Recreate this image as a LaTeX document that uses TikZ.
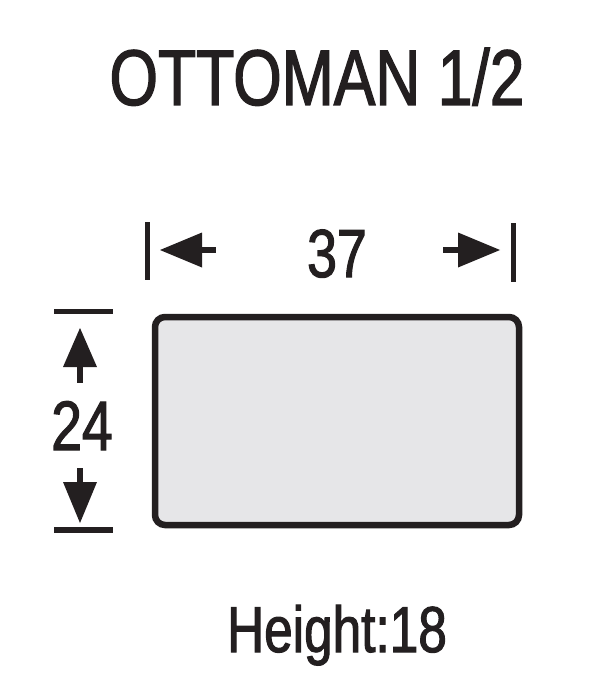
\documentclass[tikz,border=0pt]{standalone}
\usepackage{fontspec}
\newfontfamily\cond[FakeStretch=0.79,FakeBold=1.6]{Liberation Sans}
\definecolor{ink}{HTML}{231F20}
\definecolor{boxfill}{HTML}{E6E6E8}
\tikzset{
  lbl/.style={inner sep=0pt, anchor=base, text=ink},
  bar/.style={draw=ink, line width=5.5pt},
  shaft/.style={draw=ink, line width=6.5pt},
  head/.style={fill=ink, draw=none},
  sofa/.style={draw=ink, fill=boxfill, line width=6.5pt, rounded corners=10pt}
}
\begin{document}
\begin{tikzpicture}[x=1pt, y=-1pt]
\useasboundingbox (0,0) rectangle (592,698);
% title
\node[lbl] (title) at (317,105) {\cond\fontsize{79}{79}\selectfont OTTOMAN 1/2};
% width dimension
\draw[bar] (147.5,222) -- (147.5,280);
\fill[head] (160,250) -- (202,232.5) -- (202,267.5) -- cycle;
\draw[shaft] (200,250) -- (216,250);
\node[lbl] (w) at (337,277) {\cond\fontsize{68}{68}\selectfont 37};
\draw[shaft] (443,250) -- (460,250);
\fill[head] (500,250) -- (458,232.5) -- (458,267.5) -- cycle;
\draw[bar] (513.5,223) -- (513.5,282);
% depth dimension
\draw[bar] (54,311.5) -- (113,311.5);
\fill[head] (80,328) -- (63,367) -- (97,367) -- cycle;
\draw[shaft] (80,365) -- (80,383);
\node[lbl] (d) at (82,450) {\cond\fontsize{70}{70}\selectfont 24};
\draw[shaft] (80,468) -- (80,484);
\fill[head] (80,523) -- (63,482) -- (97,482) -- cycle;
\draw[bar] (54,530) -- (113,530);
% box
\draw[sofa] (155,317) rectangle (519,525);
% height
\node[lbl] (h) at (337,652) {\cond\fontsize{65}{65}\selectfont Height:18};
\end{tikzpicture}
\end{document}
